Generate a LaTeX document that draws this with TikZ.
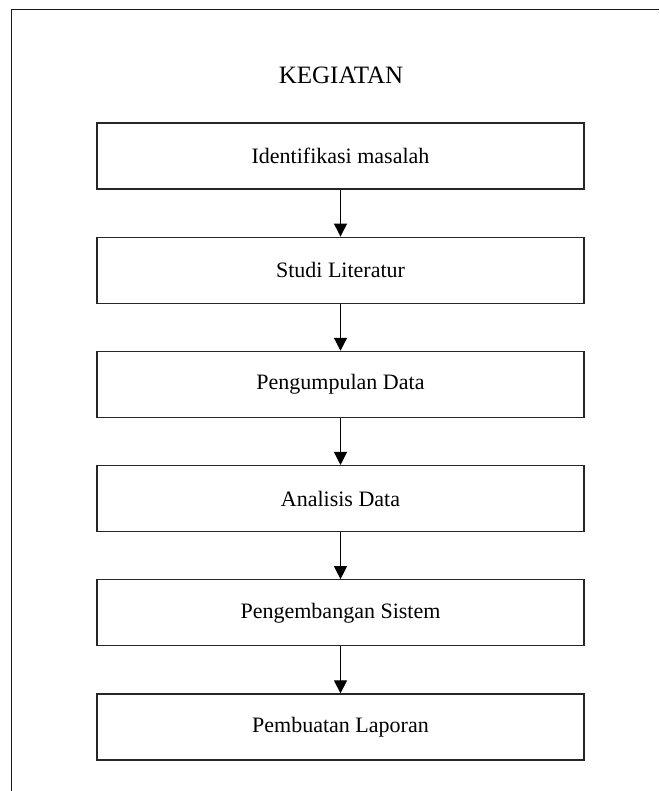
\documentclass[tikz,border=0pt]{standalone}
\usepackage{fontspec}
\setmainfont{Liberation Serif}
\usetikzlibrary{arrows.meta}
\begin{document}
\begin{tikzpicture}[x=1pt,y=-1pt,
  stepbox/.style={draw=black!85,line width=1.3pt,minimum width=487pt,minimum height=66pt,inner sep=0pt,font=\fontsize{22}{26}\selectfont},
  flowarrow/.style={draw=black,line width=1.2pt,-{Triangle[width=13pt,length=13pt]}}]
\useasboundingbox (0,0) rectangle (659,791);
\draw[black!90,line width=1.8pt] (11.5,791) -- (11.5,9.5) -- (659,9.5);
\node[font=\fontsize{25}{30}\selectfont,anchor=base] (title) at (341,84) {KEGIATAN};
\node[stepbox] (b1) at (340.5,156) {Identifikasi masalah};
\node[stepbox] (b2) at (340.5,270.2) {Studi Literatur};
\node[stepbox] (b3) at (340.5,384.4) {Pengumpulan Data};
\node[stepbox] (b4) at (340.5,498.6) {Analisis Data};
\node[stepbox] (b5) at (340.5,612.8) {Pengembangan Sistem};
\node[stepbox] (b6) at (340.5,727) {Pembuatan Laporan};
\foreach \a/\b in {b1/b2,b2/b3,b3/b4,b4/b5,b5/b6}
  \draw[flowarrow] (\a.south) -- (\b.north);
\end{tikzpicture}
\end{document}
